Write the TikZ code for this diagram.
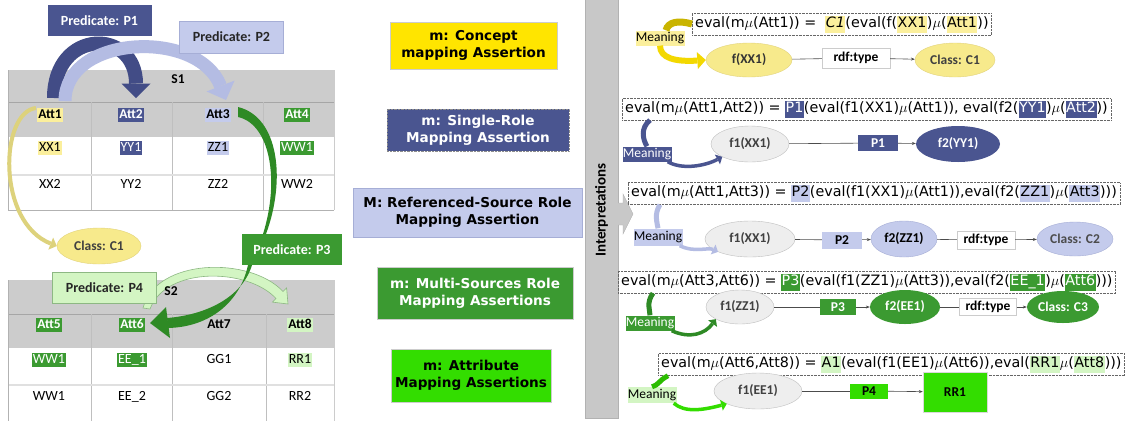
\documentclass[tikz,border=0pt]{standalone}
\usepackage{fontspec}
\setmainfont{Carlito}
\newfontfamily\comicfont{DejaVu Sans}
\usetikzlibrary{arrows.meta,shapes.geometric,calc}

\definecolor{dblue}{HTML}{4A5590}
\definecolor{dbluearr}{HTML}{424C86}
\definecolor{lav}{HTML}{C4CBEC}
\definecolor{lavarr}{HTML}{B4BCE3}
\definecolor{lavline}{HTML}{A6AED6}
\definecolor{grn}{HTML}{3B9A31}
\definecolor{grnarr}{HTML}{2E8A25}
\definecolor{bgrn}{HTML}{33DD00}
\definecolor{lgrn}{HTML}{D3F5C3}
\definecolor{lgrnline}{HTML}{8DB883}
\definecolor{ylw}{HTML}{FFE500}
\definecolor{pyel}{HTML}{FBEF9C}
\definecolor{ell}{HTML}{F7EA8C}
\definecolor{ellline}{HTML}{E2D37C}
\definecolor{tgray}{HTML}{CCCCCC}
\definecolor{egray}{HTML}{EEEEEE}
\definecolor{ygarr}{HTML}{DDD27C}
\definecolor{ydark}{HTML}{C9B400}
\definecolor{ybright}{HTML}{F3D800}
\definecolor{bargray}{HTML}{C8C8C8}

% highlighted runs inside the formulas
\newcommand{\hlbox}[2]{{\setlength{\fboxsep}{0.5pt}\colorbox{#1}{\strut#2}}}
\newcommand{\hlw}[2]{{\setlength{\fboxsep}{0.5pt}\colorbox{#1}{\strut\color{white}#2}}}

\begin{document}
\begin{tikzpicture}[x=1pt,y=-1pt,
  cal/.style={inner sep=1pt, text height=9.5pt, text depth=3pt},
  attl/.style={cal, font=\bfseries\fontsize{13.5}{16}\selectfont},
  datl/.style={cal, font=\fontsize{14}{16}\selectfont},
  predbox/.style={font=\bfseries\fontsize{14}{16}\selectfont, inner sep=0pt, minimum width=104pt, minimum height=31pt},
  legbox/.style={font=\comicfont\bfseries\fontsize{13.6}{17}\selectfont, align=center, inner sep=0pt},
  formula/.style={draw=black!60, densely dotted, font=\comicfont\fontsize{14.3}{16}\selectfont, inner xsep=3pt, inner ysep=1pt, minimum height=22pt, anchor=west},
  mean/.style={font=\fontsize{13.5}{15}\selectfont, inner sep=0pt, minimum width=49pt, minimum height=15pt},
  oval/.style={ellipse, font=\bfseries\fontsize{13.5}{15}\selectfont, inner sep=0pt},
  grayoval/.style={oval, fill=egray, draw=black!25, text=black!75},
  tag/.style={font=\bfseries\fontsize{13.5}{15}\selectfont, inner sep=0pt},
  rdfbox/.style={tag, fill=white, draw=black!20, minimum width=60pt, minimum height=19pt},
  link/.style={draw=black!70, line width=0.6pt},
  linkarr/.style={link, -{Stealth[length=4pt,width=3pt]}},
  tipbig/.style={-{Triangle[width=#1,length=0.5*#1,line width=0pt]}},
]
\fill[white] (0,0) rectangle (1142,421);
\useasboundingbox (0,0) rectangle (1142,421);

% ---------------- source table S1 ----------------
\fill[tgray] (8,70) rectangle (334,137);
\draw[black!35] (8,102) -- (334,102);
\foreach \x in {91,172,263} \draw[black!25] (\x,102) -- (\x,210);
\draw[black!12, line width=1.5pt] (8,175) -- (334,175);
\draw[black!30] (8,70) -- (8,210) -- (334,210);
\draw[black!20] (334,70) -- (334,210);

\node[attl] (s1) at (178,80) {S1};
\node[attl, fill=pyel] (a1) at (50,115) {Att1};
\node[attl, fill=dblue, text=white] (a2) at (131,115) {Att2};
\node[attl, fill=lav] (a3) at (218,115) {Att3};
\node[attl, fill=grn, text=white] (a4) at (297,115) {Att4};
\node[datl, fill=pyel] (x1) at (50,148) {XX1};
\node[datl, fill=dblue, text=white] (y1) at (131,148) {YY1};
\node[datl, fill=lav] (z1) at (218,148) {ZZ1};
\node[datl, fill=grn, text=white] (w1) at (297,148) {WW1};
\node[datl] (x2) at (50,185) {XX2};
\node[datl] (y2) at (131,185) {YY2};
\node[datl] (z2) at (218,185) {ZZ2};
\node[datl] (w2) at (297,185) {WW2};

% ---------------- source table S2 ----------------
\fill[tgray] (8,280) rectangle (334,348);
\draw[black!35] (8,314) -- (334,314);
\foreach \x in {91,172,266} \draw[black!25] (\x,314) -- (\x,421);
\draw[black!12, line width=1.5pt] (8,385) -- (334,385);
\draw[black!30] (8,280) -- (8,421);
\draw[black!20] (334,280) -- (334,421);

\node[attl, fill=grn, text=white] (a5) at (49,325) {Att5};
\node[attl, fill=grn, text=white] (a6) at (132,325) {Att6};
\node[attl] (a7) at (219,325) {Att7};
\node[attl, fill=lgrn] (a8) at (300,325) {Att8};
\node[datl, fill=grn, text=white] (v51) at (49,360) {WW1};
\node[datl, fill=grn, text=white] (v61) at (132,360) {EE\_1};
\node[datl] (v71) at (219,360) {GG1};
\node[datl, fill=lgrn] (v81) at (300,360) {RR1};
\node[datl] (v52) at (49,397) {WW1};
\node[datl] (v62) at (132,397) {EE\_2};
\node[datl] (v72) at (219,397) {GG2};
\node[datl] (v82) at (300,397) {RR2};

% ---------------- predicate arrows between columns ----------------
% P4: Att6 -> Att8 (light green arc, starting behind its label)
\filldraw[fill=lgrn, draw=lgrnline, line width=0.6pt]
  (143,308) .. controls (156,258) and (250,256) .. (283,291.5)
  -- (286.6,287.9) -- (288,304) -- (272.4,302.1) -- (276,298.5)
  .. controls (248,268) and (166,266) .. (150,309) -- cycle;
\node[predbox, fill=lgrn, draw=lgrnline, text=black!85] (p4) at (104.5,287.5) {Predicate: P4};
\node[attl] (s2) at (171,292) {S2};

% concept assertion: Att1 -> Class C1
\coordinate (yfrom) at (36,108);
\node[oval, fill=ell, draw=ellline, text=black!75, minimum width=84pt, minimum height=36pt] (c1) at (99,246) {Class: C1};
\draw[ygarr, line width=4pt, tipbig=13pt] (yfrom) .. controls (0,112) and (-4,222) .. (c1.west);

% P1: Att1 -> Att2
\coordinate (p1from) at (54,98);
\coordinate (p1to) at (136,98);
\draw[dbluearr, line width=14pt, tipbig=29pt] (p1from) .. controls (54,28) and (136,28) .. (p1to);
% P2: Att1 -> Att3
\coordinate (p2from) at (65,101);
\coordinate (p2to) at (226,100);
\draw[lavarr, line width=13pt, tipbig=30pt] (p2from) .. controls (65,35) and (198,28) .. (p2to);

\node[predbox, fill=dblue, text=white] (p1) at (99.5,20.5) {Predicate: P1};
\node[predbox, fill=lav, draw=lavline, text=black!85, minimum height=32pt] (p2) at (231.5,37) {Predicate: P2};

% P3: Att3 -> Att6 (tapered green arrow through its label)
\node[predbox, fill=grn, text=white, minimum width=100pt] (p3) at (292,249.5) {Predicate: P3};
\fill[grnarr] (238,107) .. controls (279,117) and (286,180) .. (266,234)
  -- (263,234) .. controls (280,180) and (270,124) .. (238,117) -- cycle;
\fill[grnarr] (252,265) .. controls (242,298) and (205,315) .. (167,318)
  -- (168,328) .. controls (210,327) and (240,302) .. (248,265) -- cycle;
\fill[grnarr] (166,307) -- (150,323) -- (170,338) -- cycle;

% ---------------- legend of assertion kinds ----------------
\node[legbox, fill=ylw, draw=black!20, minimum width=167pt, minimum height=47pt] (l1) at (473.5,45.5) {m: Concept\\mapping Assertion};
\node[legbox, fill=dblue, draw=black!45, densely dotted, text=white, minimum width=182pt, minimum height=42pt] (l2) at (478,130) {m: Single-Role\\Mapping Assertion};
\node[legbox, fill=lav, draw=lavline, minimum width=229pt, minimum height=49pt] (l3) at (467.5,212.5) {M: Referenced-Source Role\\Mapping Assertion};
\node[legbox, fill=grn, draw=black!20, text=white, minimum width=196pt, minimum height=52pt] (l4) at (475,293) {m: Multi-Sources Role\\Mapping Assertions};
\node[legbox, fill=bgrn, draw=black!20, minimum width=160pt, minimum height=53pt] (l5) at (471,375.5) {m: Attribute\\Mapping Assertions};

% ---------------- interpretations bar ----------------
\filldraw[fill=bargray, draw=black!30] (585,-1) rectangle (618,418);
\node[rotate=90, font=\bfseries\fontsize{15}{17}\selectfont] (interp) at (601.5,210) {Interpretations};
\filldraw[fill=bargray, draw=black!30] (618,203) -- (623,203) -- (623,194) -- (633,214) -- (623,234) -- (623,225) -- (618,225);

% ---------------- row 1: concept ----------------
\node[formula] (F1) at (692,24) {eval(m$\mu$(Att1)) =\ \ \hlbox{pyel}{\textit{C1}}(eval(f(\hlbox{pyel}{XX1})$\mu$(\hlbox{pyel}{Att1}))};
\node[mean, fill=pyel] (m1) at (660,38) {Meaning};
\node[oval, fill=ell, draw=ellline, text=black!80, minimum width=86pt, minimum height=34pt] (e1a) at (749,60) {f(XX1)};
\node[rdfbox, minimum width=68pt, minimum height=20pt] (r1) at (856,58) {rdf:type};
\node[oval, fill=ell, draw=ellline, text=black!75, minimum width=80pt, minimum height=34pt] (e1b) at (955,60) {Class: C1};
\draw[link] (e1a) -- (r1);
\draw[linkarr] (r1) -- (e1b);
\draw[ydark, line width=7pt] ([xshift=6pt]m1.north) .. controls (668,22) and (678,20) .. (F1.west);
\draw[ybright, line width=6pt, tipbig=17pt] (m1.south) .. controls (660,58) and (675,62) .. (e1a.west);

% ---------------- row 2: single role ----------------
\node[formula] (F2) at (622,109) {eval(m$\mu$(Att1,Att2)) = \hlw{dblue}{P1}(eval(f1(XX1)$\mu$(Att1)), eval(f2(\hlw{dblue}{YY1})$\mu$(\hlw{dblue}{Att2}))};
\node[mean, fill=dblue, text=white] (m2) at (647,154) {Meaning};
\node[grayoval, minimum width=78pt, minimum height=36pt] (e2a) at (750,144) {f1(XX1)};
\node[tag, fill=dblue, text=white, minimum width=40pt, minimum height=16pt] (r2) at (878,143) {P1};
\node[oval, fill=dblue, text=white, minimum width=84pt, minimum height=36pt] (e2b) at (958,144) {f2(YY1)};
\draw[link] (e2a) -- (r2);
\draw[linkarr] (r2) -- (e2b);
\draw[dblue, line width=5pt] ($(F2.south west)+(28,0)$) .. controls (640,128) and (643,140) .. (m2.north);
\draw[dblue, line width=3.5pt, tipbig=11pt] ([xshift=-4pt]m2.south east) .. controls (682,170) and (705,166) .. (e2a.south west);

% ---------------- row 3: referenced-source role ----------------
\node[formula] (F3) at (628,193.5) {eval(m$\mu$(Att1,Att3)) = \hlbox{lav}{P2}(eval(f1(XX1)$\mu$(Att1)),eval(f2(\hlbox{lav}{ZZ1})$\mu$(\hlbox{lav}{Att3})))};
\node[mean, fill=lav, minimum height=17pt] (m3) at (658,237) {Meaning};
\node[grayoval, minimum width=90pt, minimum height=36pt] (e3a) at (750,239) {f1(XX1)};
\node[tag, fill=lav, minimum width=40pt, minimum height=17pt] (r3a) at (842,240) {P2};
\node[oval, fill=lav, draw=lavline, minimum width=66pt, minimum height=36pt] (e3b) at (904,239) {f2(ZZ1)};
\node[rdfbox, minimum width=58pt, minimum height=18pt] (r3b) at (986,240) {rdf:type};
\node[oval, fill=lav, draw=lavline, text=black!70, minimum width=76pt, minimum height=34pt] (e3c) at (1075,239) {Class: C2};
\draw[link] (e3a) -- (r3a);
\draw[linkarr] (r3a) -- (e3b);
\draw[link] (e3b) -- (r3b);
\draw[linkarr] (r3b) -- (e3c);
\draw[lavarr, line width=5pt] ($(F3.south west)+(32,0)$) .. controls (654,214) and (657,222) .. (m3.north);
\draw[lavarr, line width=3.5pt, tipbig=11pt] ([xshift=-3pt]m3.south east) .. controls (695,253) and (708,247) .. (e3a.south west);

% ---------------- row 4: multi-sources role ----------------
\node[formula] (F4) at (618,282) {eval(m$\mu$(Att3,Att6)) = \hlw{grn}{P3}(eval(f1(ZZ1)$\mu$(Att3)),eval(f2(\hlw{grn}{EE\_1})$\mu$(\hlw{grn}{Att6})))};
\node[mean, fill=grn, text=white] (m4) at (650,323) {Meaning};
\node[grayoval, minimum width=68pt, minimum height=34pt] (e4a) at (740,307) {f1(ZZ1)};
\node[tag, fill=grn, text=white, minimum width=36pt, minimum height=16pt] (r4a) at (838,307) {P3};
\node[oval, fill=grn, text=white, minimum width=70pt, minimum height=34pt] (e4b) at (905,307) {f2(EE1)};
\node[rdfbox, minimum width=57pt, minimum height=17pt] (r4b) at (988,307) {rdf:type};
\node[oval, fill=grn, text=white, minimum width=72pt, minimum height=32pt] (e4c) at (1063,307) {Class: C3};
\draw[link] (e4a) -- (r4a);
\draw[linkarr] (r4a) -- (e4b);
\draw[link] (e4b) -- (r4b);
\draw[linkarr] (r4b) -- (e4c);
\draw[grnarr, line width=5pt] ($(F4.south west)+(35,0)$) .. controls (646,303) and (650,310) .. (m4.north);
\draw[grnarr, line width=3.5pt, tipbig=11pt] ([xshift=-3pt]m4.south east) .. controls (690,339) and (705,334) .. (e4a.south west);

% ---------------- row 5: attribute ----------------
\node[formula] (F5) at (658,364.5) {eval(m$\mu$(Att6,Att8)) = \hlbox{lgrn}{A1}(eval(f1(EE1)$\mu$(Att6)),eval(\hlbox{lgrn}{RR1}$\mu$(\hlbox{lgrn}{Att8})))};
\node[mean, fill=lgrn, minimum height=16pt] (m5) at (652,395) {Meaning};
\node[grayoval, minimum width=88pt, minimum height=36pt] (e5a) at (758,391) {f1(EE1)};
\node[tag, fill=bgrn, minimum width=38pt, minimum height=15pt] (r5a) at (869,391) {P4};
\node[tag, fill=bgrn, draw=black!15, minimum width=64pt, minimum height=40pt] (r5b) at (955,392) {RR1};
\draw[link] (e5a) -- (r5a);
\draw[linkarr] (r5a) -- (r5b);
\draw[bgrn!85!black, line width=5pt] ($(F5.south west)+(10,0)$) .. controls (658,381) and (660,384) .. (m5.north);
\draw[bgrn, line width=3.5pt, tipbig=11pt] ([xshift=-3pt]m5.south east) .. controls (685,413) and (703,410) .. (e5a.south west);
\end{tikzpicture}
\end{document}
